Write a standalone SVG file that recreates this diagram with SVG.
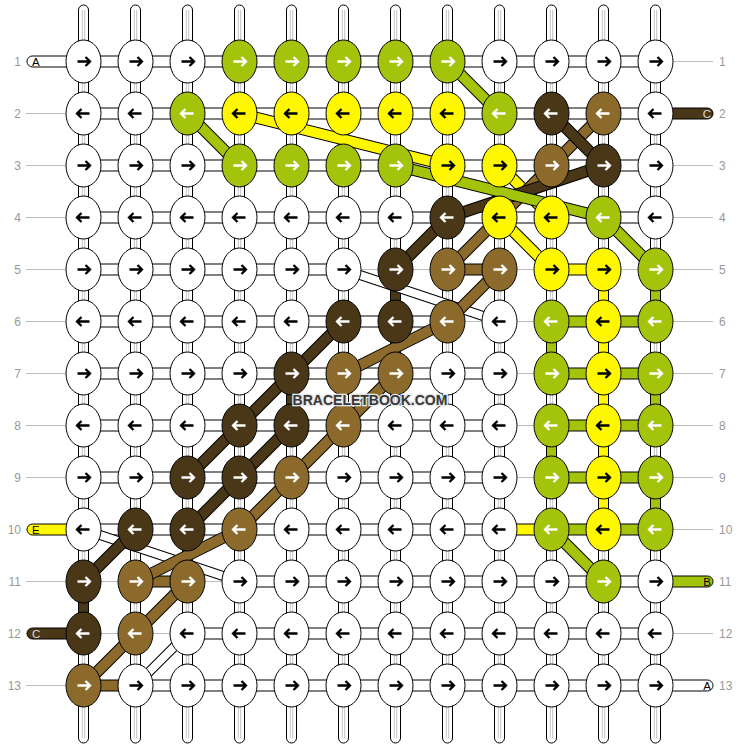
<svg xmlns="http://www.w3.org/2000/svg" xmlns:xlink="http://www.w3.org/1999/xlink" width="740" height="748" viewBox="0 0 740 748">
<style>
.bg{fill:#fff}
.guide{stroke:#bdbdbd;stroke-width:1;fill:none}
.warp{fill:#fff;stroke:#000;stroke-width:1}
.wline{stroke:#c4c4c4;stroke-width:1;fill:none}
.hc{stroke:#000;stroke-width:1}
.cw{fill:#fff}.cy{fill:#fff700}.cg{fill:#a4c40c}.cd{fill:#4a3718}.cm{fill:#8b6a2b}
.o{stroke:#000;stroke-width:12}
.ow{stroke:#000;stroke-width:10}
.sw{stroke:#fff;stroke-width:8}
.sy{stroke:#fff700;stroke-width:10}.sg{stroke:#a4c40c;stroke-width:10}.sd{stroke:#4a3718;stroke-width:10}.sm{stroke:#8b6a2b;stroke-width:10}
.kn ellipse{stroke:#000;stroke-width:1}
.w ellipse{fill:#fff}.y ellipse{fill:#fff700}.g ellipse{fill:#a4c40c}.d ellipse{fill:#4a3718}.m ellipse{fill:#8b6a2b}
.kn use{fill:none;stroke-width:2.3}
.w use,.y use{stroke:#000}.g use,.d use,.m use{stroke:#fff}
.num{font-family:"Liberation Sans",Arial,sans-serif;font-size:12px;fill:#999}
.lt{font-family:"Liberation Sans",Arial,sans-serif;font-size:11.5px}
.wm{font-family:"Liberation Sans",Arial,sans-serif;font-size:14px;font-weight:bold;fill:#383838;stroke:#e6e6e6;stroke-width:2.5;paint-order:stroke;text-anchor:middle}
</style>
<defs>
<path id="R" d="M-6,0H6.5M2,-4.5L6.5,0L2,4.5"/>
<path id="L" d="M6,0H-6.5M-2,-4.5L-6.5,0L-2,4.5"/>
</defs>
<rect class="bg" x="0" y="0" width="740" height="748"/>
<g id="guides">
<path class="guide" d="M26,61.5H713M26,113.5H713M26,165.5H713M26,217.5H713M26,269.5H713M26,321.5H713M26,373.5H713M26,425.5H713M26,477.5H713M26,529.5H713M26,581.5H713M26,633.5H713M26,685.5H713"/>
</g>
<g id="row-numbers">
<text class="num" x="21" y="65.5" text-anchor="end">1</text>
<text class="num" x="21" y="117.5" text-anchor="end">2</text>
<text class="num" x="21" y="169.5" text-anchor="end">3</text>
<text class="num" x="21" y="221.5" text-anchor="end">4</text>
<text class="num" x="21" y="273.5" text-anchor="end">5</text>
<text class="num" x="21" y="325.5" text-anchor="end">6</text>
<text class="num" x="21" y="377.5" text-anchor="end">7</text>
<text class="num" x="21" y="429.5" text-anchor="end">8</text>
<text class="num" x="21" y="481.5" text-anchor="end">9</text>
<text class="num" x="21" y="533.5" text-anchor="end">10</text>
<text class="num" x="21" y="585.5" text-anchor="end">11</text>
<text class="num" x="21" y="637.5" text-anchor="end">12</text>
<text class="num" x="21" y="689.5" text-anchor="end">13</text>
<text class="num" x="719" y="65.5">1</text>
<text class="num" x="719" y="117.5">2</text>
<text class="num" x="719" y="169.5">3</text>
<text class="num" x="719" y="221.5">4</text>
<text class="num" x="719" y="273.5">5</text>
<text class="num" x="719" y="325.5">6</text>
<text class="num" x="719" y="377.5">7</text>
<text class="num" x="719" y="429.5">8</text>
<text class="num" x="719" y="481.5">9</text>
<text class="num" x="719" y="533.5">10</text>
<text class="num" x="719" y="585.5">11</text>
<text class="num" x="719" y="637.5">12</text>
<text class="num" x="719" y="689.5">13</text>
</g>
<g id="connectors">
<g id="warps">
<rect class="warp" x="78.5" y="5" width="10" height="738" rx="5"/>
<rect class="warp" x="130.5" y="5" width="10" height="738" rx="5"/>
<rect class="warp" x="182.5" y="5" width="10" height="738" rx="5"/>
<rect class="warp" x="234.5" y="5" width="10" height="738" rx="5"/>
<rect class="warp" x="286.5" y="5" width="10" height="738" rx="5"/>
<rect class="warp" x="338.5" y="5" width="10" height="738" rx="5"/>
<rect class="warp" x="390.5" y="5" width="10" height="738" rx="5"/>
<rect class="warp" x="442.5" y="5" width="10" height="738" rx="5"/>
<rect class="warp" x="494.5" y="5" width="10" height="738" rx="5"/>
<rect class="warp" x="546.5" y="5" width="10" height="738" rx="5"/>
<rect class="warp" x="598.5" y="5" width="10" height="738" rx="5"/>
<rect class="warp" x="650.5" y="5" width="10" height="738" rx="5"/>
<path class="wline" d="M82.3,10V738M84.7,10V738M134.3,10V738M136.7,10V738M186.3,10V738M188.7,10V738M238.3,10V738M240.7,10V738M290.3,10V738M292.7,10V738M342.3,10V738M344.7,10V738M394.3,10V738M396.7,10V738M446.3,10V738M448.7,10V738M498.3,10V738M500.7,10V738M550.3,10V738M552.7,10V738M602.3,10V738M604.7,10V738M654.3,10V738M656.7,10V738"/>
</g>
<g id="vertical-colored">
<rect class="hc cd" x="390.5" y="269.5" width="10" height="52"/>
<rect class="hc cd" x="286.5" y="373.5" width="10" height="52"/>
<rect class="hc cd" x="78.5" y="581.5" width="10" height="52"/>
<rect class="hc cy" x="598.5" y="269.5" width="10" height="260"/>
<rect class="hc cg" x="650.5" y="269.5" width="10" height="52"/>
<rect class="hc cg" x="650.5" y="373.5" width="10" height="52"/>
<rect class="hc cg" x="650.5" y="477.5" width="10" height="52"/>
<rect class="hc cg" x="546.5" y="321.5" width="10" height="52"/>
<rect class="hc cg" x="546.5" y="425.5" width="10" height="52"/>
</g>
<g id="labels-bars">
<rect class="hc cw" x="27" y="56" width="45" height="11" rx="5.5"/>
<rect class="hc cy" x="27" y="524" width="45" height="11" rx="5.5"/>
<rect class="hc cd" x="27" y="628" width="45" height="11" rx="5.5"/>
<rect class="hc cd" x="668" y="108" width="45" height="11" rx="5.5"/>
<rect class="hc cg" x="668" y="576" width="45" height="11" rx="5.5"/>
<rect class="hc cw" x="668" y="680" width="45" height="11" rx="5.5"/>
</g>
<g id="horizontal">
<rect class="hc cw" x="83.5" y="56" width="572" height="11"/>
<rect class="hc cw" x="83.5" y="108" width="572" height="11"/>
<rect class="hc cw" x="83.5" y="160" width="572" height="11"/>
<rect class="hc cw" x="83.5" y="212" width="572" height="11"/>
<rect class="hc cw" x="83.5" y="264" width="260" height="11"/>
<rect class="hc cm" x="447.5" y="264" width="52" height="11"/>
<rect class="hc cy" x="551.5" y="264" width="52" height="11"/>
<rect class="hc cw" x="83.5" y="316" width="364" height="11"/>
<rect class="hc cg" x="551.5" y="316" width="104" height="11"/>
<rect class="hc cw" x="83.5" y="368" width="416" height="11"/>
<rect class="hc cg" x="551.5" y="368" width="104" height="11"/>
<rect class="hc cw" x="83.5" y="420" width="416" height="11"/>
<rect class="hc cg" x="551.5" y="420" width="104" height="11"/>
<rect class="hc cw" x="83.5" y="472" width="416" height="11"/>
<rect class="hc cg" x="551.5" y="472" width="104" height="11"/>
<rect class="hc cw" x="83.5" y="524" width="416" height="11"/>
<rect class="hc cy" x="499.5" y="524" width="52" height="11"/>
<rect class="hc cg" x="551.5" y="524" width="104" height="11"/>
<rect class="hc cm" x="135.5" y="576" width="52" height="11"/>
<rect class="hc cw" x="239.5" y="576" width="416" height="11"/>
<rect class="hc cw" x="187.5" y="628" width="468" height="11"/>
<rect class="hc cm" x="83.5" y="680" width="52" height="11"/>
<rect class="hc cw" x="135.5" y="680" width="520" height="11"/>
</g>
<g id="bands">
<line class="ow" x1="343.5" y1="269.5" x2="499.5" y2="321.5"/><line class="sw" x1="343.5" y1="269.5" x2="499.5" y2="321.5"/>
<line class="ow" x1="83.5" y1="529.5" x2="239.5" y2="581.5"/><line class="sw" x1="83.5" y1="529.5" x2="239.5" y2="581.5"/>
<line class="ow" x1="187.5" y1="633.5" x2="135.5" y2="685.5"/><line class="sw" x1="187.5" y1="633.5" x2="135.5" y2="685.5"/>
<line class="o" x1="239.5" y1="113.5" x2="447.5" y2="165.5"/><line class="sy" x1="239.5" y1="113.5" x2="447.5" y2="165.5"/>
<line class="o" x1="499.5" y1="165.5" x2="551.5" y2="217.5"/><line class="sy" x1="499.5" y1="165.5" x2="551.5" y2="217.5"/>
<line class="o" x1="499.5" y1="217.5" x2="551.5" y2="269.5"/><line class="sy" x1="499.5" y1="217.5" x2="551.5" y2="269.5"/>
<line class="o" x1="447.5" y1="61.5" x2="499.5" y2="113.5"/><line class="sg" x1="447.5" y1="61.5" x2="499.5" y2="113.5"/>
<line class="o" x1="187.5" y1="113.5" x2="239.5" y2="165.5"/><line class="sg" x1="187.5" y1="113.5" x2="239.5" y2="165.5"/>
<line class="o" x1="603.5" y1="217.5" x2="655.5" y2="269.5"/><line class="sg" x1="603.5" y1="217.5" x2="655.5" y2="269.5"/>
<line class="o" x1="551.5" y1="529.5" x2="603.5" y2="581.5"/><line class="sg" x1="551.5" y1="529.5" x2="603.5" y2="581.5"/>
<line class="o" x1="603.5" y1="113.5" x2="551.5" y2="165.5"/><line class="sm" x1="603.5" y1="113.5" x2="551.5" y2="165.5"/>
<line class="o" x1="551.5" y1="113.5" x2="603.5" y2="165.5"/><line class="sd" x1="551.5" y1="113.5" x2="603.5" y2="165.5"/>
<line class="o" x1="551.5" y1="165.5" x2="447.5" y2="269.5"/><line class="sm" x1="551.5" y1="165.5" x2="447.5" y2="269.5"/>
<line class="o" x1="603.5" y1="165.5" x2="447.5" y2="217.5"/><line class="sd" x1="603.5" y1="165.5" x2="447.5" y2="217.5"/>
<line class="o" x1="395.5" y1="165.5" x2="603.5" y2="217.5"/><line class="sg" x1="395.5" y1="165.5" x2="603.5" y2="217.5"/>
<line class="o" x1="447.5" y1="217.5" x2="395.5" y2="269.5"/><line class="sd" x1="447.5" y1="217.5" x2="395.5" y2="269.5"/>
<line class="o" x1="499.5" y1="269.5" x2="447.5" y2="321.5"/><line class="sm" x1="499.5" y1="269.5" x2="447.5" y2="321.5"/>
<line class="o" x1="447.5" y1="321.5" x2="343.5" y2="373.5"/><line class="sm" x1="447.5" y1="321.5" x2="343.5" y2="373.5"/>
<line class="o" x1="343.5" y1="321.5" x2="291.5" y2="373.5"/><line class="sd" x1="343.5" y1="321.5" x2="291.5" y2="373.5"/>
<line class="o" x1="395.5" y1="373.5" x2="343.5" y2="425.5"/><line class="sm" x1="395.5" y1="373.5" x2="343.5" y2="425.5"/>
<line class="o" x1="291.5" y1="373.5" x2="239.5" y2="425.5"/><line class="sd" x1="291.5" y1="373.5" x2="239.5" y2="425.5"/>
<line class="o" x1="343.5" y1="425.5" x2="291.5" y2="477.5"/><line class="sm" x1="343.5" y1="425.5" x2="291.5" y2="477.5"/>
<line class="o" x1="291.5" y1="425.5" x2="239.5" y2="477.5"/><line class="sd" x1="291.5" y1="425.5" x2="239.5" y2="477.5"/>
<line class="o" x1="239.5" y1="425.5" x2="187.5" y2="477.5"/><line class="sd" x1="239.5" y1="425.5" x2="187.5" y2="477.5"/>
<line class="o" x1="291.5" y1="477.5" x2="239.5" y2="529.5"/><line class="sm" x1="291.5" y1="477.5" x2="239.5" y2="529.5"/>
<line class="o" x1="239.5" y1="477.5" x2="187.5" y2="529.5"/><line class="sd" x1="239.5" y1="477.5" x2="187.5" y2="529.5"/>
<line class="o" x1="239.5" y1="529.5" x2="135.5" y2="581.5"/><line class="sm" x1="239.5" y1="529.5" x2="135.5" y2="581.5"/>
<line class="o" x1="135.5" y1="529.5" x2="83.5" y2="581.5"/><line class="sd" x1="135.5" y1="529.5" x2="83.5" y2="581.5"/>
<line class="o" x1="187.5" y1="581.5" x2="83.5" y2="685.5"/><line class="sm" x1="187.5" y1="581.5" x2="83.5" y2="685.5"/>
</g>
</g>
<g id="label-letters">
<text class="lt" x="32" y="65.5" fill="#000">A</text>
<text class="lt" x="32" y="533.5" fill="#000">E</text>
<text class="lt" x="32" y="637.5" fill="#ddd">C</text>
<text class="lt" x="711" y="117.5" fill="#ddd" text-anchor="end">C</text>
<text class="lt" x="711" y="585.5" fill="#000" text-anchor="end">B</text>
<text class="lt" x="711" y="689.5" fill="#000" text-anchor="end">A</text>
</g>
<g id="knots">
<g id="n1-0" class="kn w" transform="translate(83.5 61.5)"><ellipse rx="17.5" ry="21.5"/><use href="#R"/></g>
<g id="n1-1" class="kn w" transform="translate(135.5 61.5)"><ellipse rx="17.5" ry="21.5"/><use href="#R"/></g>
<g id="n1-2" class="kn w" transform="translate(187.5 61.5)"><ellipse rx="17.5" ry="21.5"/><use href="#R"/></g>
<g id="n1-3" class="kn g" transform="translate(239.5 61.5)"><ellipse rx="17.5" ry="21.5"/><use href="#R"/></g>
<g id="n1-4" class="kn g" transform="translate(291.5 61.5)"><ellipse rx="17.5" ry="21.5"/><use href="#R"/></g>
<g id="n1-5" class="kn g" transform="translate(343.5 61.5)"><ellipse rx="17.5" ry="21.5"/><use href="#R"/></g>
<g id="n1-6" class="kn g" transform="translate(395.5 61.5)"><ellipse rx="17.5" ry="21.5"/><use href="#R"/></g>
<g id="n1-7" class="kn g" transform="translate(447.5 61.5)"><ellipse rx="17.5" ry="21.5"/><use href="#R"/></g>
<g id="n1-8" class="kn w" transform="translate(499.5 61.5)"><ellipse rx="17.5" ry="21.5"/><use href="#R"/></g>
<g id="n1-9" class="kn w" transform="translate(551.5 61.5)"><ellipse rx="17.5" ry="21.5"/><use href="#R"/></g>
<g id="n1-10" class="kn w" transform="translate(603.5 61.5)"><ellipse rx="17.5" ry="21.5"/><use href="#R"/></g>
<g id="n1-11" class="kn w" transform="translate(655.5 61.5)"><ellipse rx="17.5" ry="21.5"/><use href="#R"/></g>
<g id="n2-0" class="kn w" transform="translate(83.5 113.5)"><ellipse rx="17.5" ry="21.5"/><use href="#L"/></g>
<g id="n2-1" class="kn w" transform="translate(135.5 113.5)"><ellipse rx="17.5" ry="21.5"/><use href="#L"/></g>
<g id="n2-2" class="kn g" transform="translate(187.5 113.5)"><ellipse rx="17.5" ry="21.5"/><use href="#L"/></g>
<g id="n2-3" class="kn y" transform="translate(239.5 113.5)"><ellipse rx="17.5" ry="21.5"/><use href="#L"/></g>
<g id="n2-4" class="kn y" transform="translate(291.5 113.5)"><ellipse rx="17.5" ry="21.5"/><use href="#L"/></g>
<g id="n2-5" class="kn y" transform="translate(343.5 113.5)"><ellipse rx="17.5" ry="21.5"/><use href="#L"/></g>
<g id="n2-6" class="kn y" transform="translate(395.5 113.5)"><ellipse rx="17.5" ry="21.5"/><use href="#L"/></g>
<g id="n2-7" class="kn y" transform="translate(447.5 113.5)"><ellipse rx="17.5" ry="21.5"/><use href="#L"/></g>
<g id="n2-8" class="kn g" transform="translate(499.5 113.5)"><ellipse rx="17.5" ry="21.5"/><use href="#L"/></g>
<g id="n2-9" class="kn d" transform="translate(551.5 113.5)"><ellipse rx="17.5" ry="21.5"/><use href="#L"/></g>
<g id="n2-10" class="kn m" transform="translate(603.5 113.5)"><ellipse rx="17.5" ry="21.5"/><use href="#L"/></g>
<g id="n2-11" class="kn w" transform="translate(655.5 113.5)"><ellipse rx="17.5" ry="21.5"/><use href="#L"/></g>
<g id="n3-0" class="kn w" transform="translate(83.5 165.5)"><ellipse rx="17.5" ry="21.5"/><use href="#R"/></g>
<g id="n3-1" class="kn w" transform="translate(135.5 165.5)"><ellipse rx="17.5" ry="21.5"/><use href="#R"/></g>
<g id="n3-2" class="kn w" transform="translate(187.5 165.5)"><ellipse rx="17.5" ry="21.5"/><use href="#R"/></g>
<g id="n3-3" class="kn g" transform="translate(239.5 165.5)"><ellipse rx="17.5" ry="21.5"/><use href="#R"/></g>
<g id="n3-4" class="kn g" transform="translate(291.5 165.5)"><ellipse rx="17.5" ry="21.5"/><use href="#R"/></g>
<g id="n3-5" class="kn g" transform="translate(343.5 165.5)"><ellipse rx="17.5" ry="21.5"/><use href="#R"/></g>
<g id="n3-6" class="kn g" transform="translate(395.5 165.5)"><ellipse rx="17.5" ry="21.5"/><use href="#R"/></g>
<g id="n3-7" class="kn y" transform="translate(447.5 165.5)"><ellipse rx="17.5" ry="21.5"/><use href="#R"/></g>
<g id="n3-8" class="kn y" transform="translate(499.5 165.5)"><ellipse rx="17.5" ry="21.5"/><use href="#R"/></g>
<g id="n3-9" class="kn m" transform="translate(551.5 165.5)"><ellipse rx="17.5" ry="21.5"/><use href="#R"/></g>
<g id="n3-10" class="kn d" transform="translate(603.5 165.5)"><ellipse rx="17.5" ry="21.5"/><use href="#R"/></g>
<g id="n3-11" class="kn w" transform="translate(655.5 165.5)"><ellipse rx="17.5" ry="21.5"/><use href="#R"/></g>
<g id="n4-0" class="kn w" transform="translate(83.5 217.5)"><ellipse rx="17.5" ry="21.5"/><use href="#L"/></g>
<g id="n4-1" class="kn w" transform="translate(135.5 217.5)"><ellipse rx="17.5" ry="21.5"/><use href="#L"/></g>
<g id="n4-2" class="kn w" transform="translate(187.5 217.5)"><ellipse rx="17.5" ry="21.5"/><use href="#L"/></g>
<g id="n4-3" class="kn w" transform="translate(239.5 217.5)"><ellipse rx="17.5" ry="21.5"/><use href="#L"/></g>
<g id="n4-4" class="kn w" transform="translate(291.5 217.5)"><ellipse rx="17.5" ry="21.5"/><use href="#L"/></g>
<g id="n4-5" class="kn w" transform="translate(343.5 217.5)"><ellipse rx="17.5" ry="21.5"/><use href="#L"/></g>
<g id="n4-6" class="kn w" transform="translate(395.5 217.5)"><ellipse rx="17.5" ry="21.5"/><use href="#L"/></g>
<g id="n4-7" class="kn d" transform="translate(447.5 217.5)"><ellipse rx="17.5" ry="21.5"/><use href="#L"/></g>
<g id="n4-8" class="kn y" transform="translate(499.5 217.5)"><ellipse rx="17.5" ry="21.5"/><use href="#L"/></g>
<g id="n4-9" class="kn y" transform="translate(551.5 217.5)"><ellipse rx="17.5" ry="21.5"/><use href="#L"/></g>
<g id="n4-10" class="kn g" transform="translate(603.5 217.5)"><ellipse rx="17.5" ry="21.5"/><use href="#L"/></g>
<g id="n4-11" class="kn w" transform="translate(655.5 217.5)"><ellipse rx="17.5" ry="21.5"/><use href="#L"/></g>
<g id="n5-0" class="kn w" transform="translate(83.5 269.5)"><ellipse rx="17.5" ry="21.5"/><use href="#R"/></g>
<g id="n5-1" class="kn w" transform="translate(135.5 269.5)"><ellipse rx="17.5" ry="21.5"/><use href="#R"/></g>
<g id="n5-2" class="kn w" transform="translate(187.5 269.5)"><ellipse rx="17.5" ry="21.5"/><use href="#R"/></g>
<g id="n5-3" class="kn w" transform="translate(239.5 269.5)"><ellipse rx="17.5" ry="21.5"/><use href="#R"/></g>
<g id="n5-4" class="kn w" transform="translate(291.5 269.5)"><ellipse rx="17.5" ry="21.5"/><use href="#R"/></g>
<g id="n5-5" class="kn w" transform="translate(343.5 269.5)"><ellipse rx="17.5" ry="21.5"/><use href="#R"/></g>
<g id="n5-6" class="kn d" transform="translate(395.5 269.5)"><ellipse rx="17.5" ry="21.5"/><use href="#R"/></g>
<g id="n5-7" class="kn m" transform="translate(447.5 269.5)"><ellipse rx="17.5" ry="21.5"/><use href="#R"/></g>
<g id="n5-8" class="kn m" transform="translate(499.5 269.5)"><ellipse rx="17.5" ry="21.5"/><use href="#R"/></g>
<g id="n5-9" class="kn y" transform="translate(551.5 269.5)"><ellipse rx="17.5" ry="21.5"/><use href="#R"/></g>
<g id="n5-10" class="kn y" transform="translate(603.5 269.5)"><ellipse rx="17.5" ry="21.5"/><use href="#R"/></g>
<g id="n5-11" class="kn g" transform="translate(655.5 269.5)"><ellipse rx="17.5" ry="21.5"/><use href="#R"/></g>
<g id="n6-0" class="kn w" transform="translate(83.5 321.5)"><ellipse rx="17.5" ry="21.5"/><use href="#L"/></g>
<g id="n6-1" class="kn w" transform="translate(135.5 321.5)"><ellipse rx="17.5" ry="21.5"/><use href="#L"/></g>
<g id="n6-2" class="kn w" transform="translate(187.5 321.5)"><ellipse rx="17.5" ry="21.5"/><use href="#L"/></g>
<g id="n6-3" class="kn w" transform="translate(239.5 321.5)"><ellipse rx="17.5" ry="21.5"/><use href="#L"/></g>
<g id="n6-4" class="kn w" transform="translate(291.5 321.5)"><ellipse rx="17.5" ry="21.5"/><use href="#L"/></g>
<g id="n6-5" class="kn d" transform="translate(343.5 321.5)"><ellipse rx="17.5" ry="21.5"/><use href="#L"/></g>
<g id="n6-6" class="kn d" transform="translate(395.5 321.5)"><ellipse rx="17.5" ry="21.5"/><use href="#L"/></g>
<g id="n6-7" class="kn m" transform="translate(447.5 321.5)"><ellipse rx="17.5" ry="21.5"/><use href="#L"/></g>
<g id="n6-8" class="kn w" transform="translate(499.5 321.5)"><ellipse rx="17.5" ry="21.5"/><use href="#L"/></g>
<g id="n6-9" class="kn g" transform="translate(551.5 321.5)"><ellipse rx="17.5" ry="21.5"/><use href="#L"/></g>
<g id="n6-10" class="kn y" transform="translate(603.5 321.5)"><ellipse rx="17.5" ry="21.5"/><use href="#L"/></g>
<g id="n6-11" class="kn g" transform="translate(655.5 321.5)"><ellipse rx="17.5" ry="21.5"/><use href="#L"/></g>
<g id="n7-0" class="kn w" transform="translate(83.5 373.5)"><ellipse rx="17.5" ry="21.5"/><use href="#R"/></g>
<g id="n7-1" class="kn w" transform="translate(135.5 373.5)"><ellipse rx="17.5" ry="21.5"/><use href="#R"/></g>
<g id="n7-2" class="kn w" transform="translate(187.5 373.5)"><ellipse rx="17.5" ry="21.5"/><use href="#R"/></g>
<g id="n7-3" class="kn w" transform="translate(239.5 373.5)"><ellipse rx="17.5" ry="21.5"/><use href="#R"/></g>
<g id="n7-4" class="kn d" transform="translate(291.5 373.5)"><ellipse rx="17.5" ry="21.5"/><use href="#R"/></g>
<g id="n7-5" class="kn m" transform="translate(343.5 373.5)"><ellipse rx="17.5" ry="21.5"/><use href="#R"/></g>
<g id="n7-6" class="kn m" transform="translate(395.5 373.5)"><ellipse rx="17.5" ry="21.5"/><use href="#R"/></g>
<g id="n7-7" class="kn w" transform="translate(447.5 373.5)"><ellipse rx="17.5" ry="21.5"/><use href="#R"/></g>
<g id="n7-8" class="kn w" transform="translate(499.5 373.5)"><ellipse rx="17.5" ry="21.5"/><use href="#R"/></g>
<g id="n7-9" class="kn g" transform="translate(551.5 373.5)"><ellipse rx="17.5" ry="21.5"/><use href="#R"/></g>
<g id="n7-10" class="kn y" transform="translate(603.5 373.5)"><ellipse rx="17.5" ry="21.5"/><use href="#R"/></g>
<g id="n7-11" class="kn g" transform="translate(655.5 373.5)"><ellipse rx="17.5" ry="21.5"/><use href="#R"/></g>
<g id="n8-0" class="kn w" transform="translate(83.5 425.5)"><ellipse rx="17.5" ry="21.5"/><use href="#L"/></g>
<g id="n8-1" class="kn w" transform="translate(135.5 425.5)"><ellipse rx="17.5" ry="21.5"/><use href="#L"/></g>
<g id="n8-2" class="kn w" transform="translate(187.5 425.5)"><ellipse rx="17.5" ry="21.5"/><use href="#L"/></g>
<g id="n8-3" class="kn d" transform="translate(239.5 425.5)"><ellipse rx="17.5" ry="21.5"/><use href="#L"/></g>
<g id="n8-4" class="kn d" transform="translate(291.5 425.5)"><ellipse rx="17.5" ry="21.5"/><use href="#L"/></g>
<g id="n8-5" class="kn m" transform="translate(343.5 425.5)"><ellipse rx="17.5" ry="21.5"/><use href="#L"/></g>
<g id="n8-6" class="kn w" transform="translate(395.5 425.5)"><ellipse rx="17.5" ry="21.5"/><use href="#L"/></g>
<g id="n8-7" class="kn w" transform="translate(447.5 425.5)"><ellipse rx="17.5" ry="21.5"/><use href="#L"/></g>
<g id="n8-8" class="kn w" transform="translate(499.5 425.5)"><ellipse rx="17.5" ry="21.5"/><use href="#L"/></g>
<g id="n8-9" class="kn g" transform="translate(551.5 425.5)"><ellipse rx="17.5" ry="21.5"/><use href="#L"/></g>
<g id="n8-10" class="kn y" transform="translate(603.5 425.5)"><ellipse rx="17.5" ry="21.5"/><use href="#L"/></g>
<g id="n8-11" class="kn g" transform="translate(655.5 425.5)"><ellipse rx="17.5" ry="21.5"/><use href="#L"/></g>
<g id="n9-0" class="kn w" transform="translate(83.5 477.5)"><ellipse rx="17.5" ry="21.5"/><use href="#R"/></g>
<g id="n9-1" class="kn w" transform="translate(135.5 477.5)"><ellipse rx="17.5" ry="21.5"/><use href="#R"/></g>
<g id="n9-2" class="kn d" transform="translate(187.5 477.5)"><ellipse rx="17.5" ry="21.5"/><use href="#R"/></g>
<g id="n9-3" class="kn d" transform="translate(239.5 477.5)"><ellipse rx="17.5" ry="21.5"/><use href="#R"/></g>
<g id="n9-4" class="kn m" transform="translate(291.5 477.5)"><ellipse rx="17.5" ry="21.5"/><use href="#R"/></g>
<g id="n9-5" class="kn w" transform="translate(343.5 477.5)"><ellipse rx="17.5" ry="21.5"/><use href="#R"/></g>
<g id="n9-6" class="kn w" transform="translate(395.5 477.5)"><ellipse rx="17.5" ry="21.5"/><use href="#R"/></g>
<g id="n9-7" class="kn w" transform="translate(447.5 477.5)"><ellipse rx="17.5" ry="21.5"/><use href="#R"/></g>
<g id="n9-8" class="kn w" transform="translate(499.5 477.5)"><ellipse rx="17.5" ry="21.5"/><use href="#R"/></g>
<g id="n9-9" class="kn g" transform="translate(551.5 477.5)"><ellipse rx="17.5" ry="21.5"/><use href="#R"/></g>
<g id="n9-10" class="kn y" transform="translate(603.5 477.5)"><ellipse rx="17.5" ry="21.5"/><use href="#R"/></g>
<g id="n9-11" class="kn g" transform="translate(655.5 477.5)"><ellipse rx="17.5" ry="21.5"/><use href="#R"/></g>
<g id="n10-0" class="kn w" transform="translate(83.5 529.5)"><ellipse rx="17.5" ry="21.5"/><use href="#L"/></g>
<g id="n10-1" class="kn d" transform="translate(135.5 529.5)"><ellipse rx="17.5" ry="21.5"/><use href="#L"/></g>
<g id="n10-2" class="kn d" transform="translate(187.5 529.5)"><ellipse rx="17.5" ry="21.5"/><use href="#L"/></g>
<g id="n10-3" class="kn m" transform="translate(239.5 529.5)"><ellipse rx="17.5" ry="21.5"/><use href="#L"/></g>
<g id="n10-4" class="kn w" transform="translate(291.5 529.5)"><ellipse rx="17.5" ry="21.5"/><use href="#L"/></g>
<g id="n10-5" class="kn w" transform="translate(343.5 529.5)"><ellipse rx="17.5" ry="21.5"/><use href="#L"/></g>
<g id="n10-6" class="kn w" transform="translate(395.5 529.5)"><ellipse rx="17.5" ry="21.5"/><use href="#L"/></g>
<g id="n10-7" class="kn w" transform="translate(447.5 529.5)"><ellipse rx="17.5" ry="21.5"/><use href="#L"/></g>
<g id="n10-8" class="kn w" transform="translate(499.5 529.5)"><ellipse rx="17.5" ry="21.5"/><use href="#L"/></g>
<g id="n10-9" class="kn g" transform="translate(551.5 529.5)"><ellipse rx="17.5" ry="21.5"/><use href="#L"/></g>
<g id="n10-10" class="kn y" transform="translate(603.5 529.5)"><ellipse rx="17.5" ry="21.5"/><use href="#L"/></g>
<g id="n10-11" class="kn g" transform="translate(655.5 529.5)"><ellipse rx="17.5" ry="21.5"/><use href="#L"/></g>
<g id="n11-0" class="kn d" transform="translate(83.5 581.5)"><ellipse rx="17.5" ry="21.5"/><use href="#R"/></g>
<g id="n11-1" class="kn m" transform="translate(135.5 581.5)"><ellipse rx="17.5" ry="21.5"/><use href="#R"/></g>
<g id="n11-2" class="kn m" transform="translate(187.5 581.5)"><ellipse rx="17.5" ry="21.5"/><use href="#R"/></g>
<g id="n11-3" class="kn w" transform="translate(239.5 581.5)"><ellipse rx="17.5" ry="21.5"/><use href="#R"/></g>
<g id="n11-4" class="kn w" transform="translate(291.5 581.5)"><ellipse rx="17.5" ry="21.5"/><use href="#R"/></g>
<g id="n11-5" class="kn w" transform="translate(343.5 581.5)"><ellipse rx="17.5" ry="21.5"/><use href="#R"/></g>
<g id="n11-6" class="kn w" transform="translate(395.5 581.5)"><ellipse rx="17.5" ry="21.5"/><use href="#R"/></g>
<g id="n11-7" class="kn w" transform="translate(447.5 581.5)"><ellipse rx="17.5" ry="21.5"/><use href="#R"/></g>
<g id="n11-8" class="kn w" transform="translate(499.5 581.5)"><ellipse rx="17.5" ry="21.5"/><use href="#R"/></g>
<g id="n11-9" class="kn w" transform="translate(551.5 581.5)"><ellipse rx="17.5" ry="21.5"/><use href="#R"/></g>
<g id="n11-10" class="kn g" transform="translate(603.5 581.5)"><ellipse rx="17.5" ry="21.5"/><use href="#R"/></g>
<g id="n11-11" class="kn w" transform="translate(655.5 581.5)"><ellipse rx="17.5" ry="21.5"/><use href="#R"/></g>
<g id="n12-0" class="kn d" transform="translate(83.5 633.5)"><ellipse rx="17.5" ry="21.5"/><use href="#L"/></g>
<g id="n12-1" class="kn m" transform="translate(135.5 633.5)"><ellipse rx="17.5" ry="21.5"/><use href="#L"/></g>
<g id="n12-2" class="kn w" transform="translate(187.5 633.5)"><ellipse rx="17.5" ry="21.5"/><use href="#L"/></g>
<g id="n12-3" class="kn w" transform="translate(239.5 633.5)"><ellipse rx="17.5" ry="21.5"/><use href="#L"/></g>
<g id="n12-4" class="kn w" transform="translate(291.5 633.5)"><ellipse rx="17.5" ry="21.5"/><use href="#L"/></g>
<g id="n12-5" class="kn w" transform="translate(343.5 633.5)"><ellipse rx="17.5" ry="21.5"/><use href="#L"/></g>
<g id="n12-6" class="kn w" transform="translate(395.5 633.5)"><ellipse rx="17.5" ry="21.5"/><use href="#L"/></g>
<g id="n12-7" class="kn w" transform="translate(447.5 633.5)"><ellipse rx="17.5" ry="21.5"/><use href="#L"/></g>
<g id="n12-8" class="kn w" transform="translate(499.5 633.5)"><ellipse rx="17.5" ry="21.5"/><use href="#L"/></g>
<g id="n12-9" class="kn w" transform="translate(551.5 633.5)"><ellipse rx="17.5" ry="21.5"/><use href="#L"/></g>
<g id="n12-10" class="kn w" transform="translate(603.5 633.5)"><ellipse rx="17.5" ry="21.5"/><use href="#L"/></g>
<g id="n12-11" class="kn w" transform="translate(655.5 633.5)"><ellipse rx="17.5" ry="21.5"/><use href="#L"/></g>
<g id="n13-0" class="kn m" transform="translate(83.5 685.5)"><ellipse rx="17.5" ry="21.5"/><use href="#R"/></g>
<g id="n13-1" class="kn w" transform="translate(135.5 685.5)"><ellipse rx="17.5" ry="21.5"/><use href="#R"/></g>
<g id="n13-2" class="kn w" transform="translate(187.5 685.5)"><ellipse rx="17.5" ry="21.5"/><use href="#R"/></g>
<g id="n13-3" class="kn w" transform="translate(239.5 685.5)"><ellipse rx="17.5" ry="21.5"/><use href="#R"/></g>
<g id="n13-4" class="kn w" transform="translate(291.5 685.5)"><ellipse rx="17.5" ry="21.5"/><use href="#R"/></g>
<g id="n13-5" class="kn w" transform="translate(343.5 685.5)"><ellipse rx="17.5" ry="21.5"/><use href="#R"/></g>
<g id="n13-6" class="kn w" transform="translate(395.5 685.5)"><ellipse rx="17.5" ry="21.5"/><use href="#R"/></g>
<g id="n13-7" class="kn w" transform="translate(447.5 685.5)"><ellipse rx="17.5" ry="21.5"/><use href="#R"/></g>
<g id="n13-8" class="kn w" transform="translate(499.5 685.5)"><ellipse rx="17.5" ry="21.5"/><use href="#R"/></g>
<g id="n13-9" class="kn w" transform="translate(551.5 685.5)"><ellipse rx="17.5" ry="21.5"/><use href="#R"/></g>
<g id="n13-10" class="kn w" transform="translate(603.5 685.5)"><ellipse rx="17.5" ry="21.5"/><use href="#R"/></g>
<g id="n13-11" class="kn w" transform="translate(655.5 685.5)"><ellipse rx="17.5" ry="21.5"/><use href="#R"/></g>
</g>
<text class="wm" x="370" y="405">BRACELETBOOK.COM</text>
</svg>
